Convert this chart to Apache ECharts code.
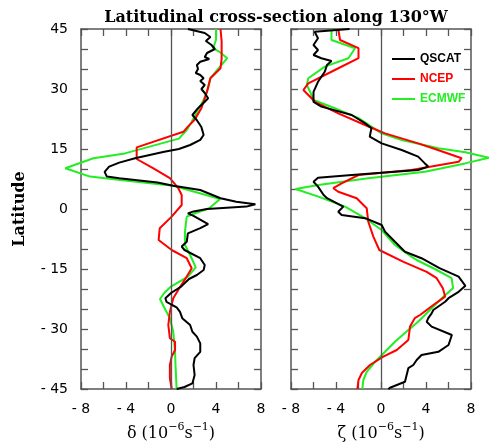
<!DOCTYPE html>
<html><head><meta charset="utf-8">
<script src="https://cdn.jsdelivr.net/npm/echarts@6/dist/echarts.min.js"></script>
<style>html,body{margin:0;padding:0;background:#fff}#c{width:489px;height:442px}</style>
</head><body><div id="c"></div>
<script>
// ---- data: [latitude, value] ----
const divQscat = [[45,1.5],[44,3.0],[43,3.5],[42,3.1],[41,3.6],[40,3.9],[39,3.2],[38,3.0],[37.5,3.4],[36.8,2.6],[36,2.3],[35,2.4],[34,2.2],[33.5,2.6],[32.7,2.9],[32,2.6],[31,3.0],[30,2.7],[29,3.0],[27.7,3.3],[26.8,3.0],[25.2,2.4],[23.5,1.9],[22.2,2.3],[20.5,2.7],[18.5,2.9],[17.3,2.6],[16,1.7],[15,0.7],[14.3,-0.6],[13.5,-1.9],[12.7,-3.2],[11.6,-4.6],[10.6,-5.5],[9.3,-5.9],[8.1,-5.7],[7.7,-4.6],[7.2,-3.0],[6.6,-1.2],[5.8,0.2],[4.75,2.6],[2.7,4.4],[1.8,5.8],[1.2,7.5],[0.6,6.7],[0,3.2],[-0.6,2.0],[-1.1,1.5],[-1.7,2.0],[-3.8,3.3],[-4.8,2.6],[-6.1,1.5],[-8.2,1.4],[-9.4,0.95],[-10.25,1.2],[-12.3,2.6],[-14,3.0],[-15.25,2.9],[-16.5,2.3],[-17.5,1.6],[-19.4,0.9],[-21,0.0],[-22.3,-0.5],[-23.2,-0.4],[-24,0.1],[-24.6,0.5],[-25.7,0.8],[-27.3,1.0],[-29,1.7],[-30.7,1.9],[-31.9,2.3],[-33.6,2.6],[-35.7,2.6],[-37.3,2.1],[-39,2.0],[-41.5,2.1],[-43.6,1.9],[-44.5,1.2],[-45,0.5]];
const divNcep = [[45,4.4],[42,4.5],[37.5,4.5],[35.2,4.4],[32.7,3.5],[29.3,3.2],[25.2,2.7],[22.3,2.1],[20.6,1.5],[19.3,1.1],[15.4,-3.05],[12.5,-3.05],[10.2,-1.6],[7.7,-0.1],[5.2,0.65],[3.5,0.95],[1,0.95],[-1.9,0.06],[-4.8,-1.0],[-7.75,-1.1],[-10.25,0.06],[-12.3,1.4],[-14.8,1.84],[-16.9,1.4],[-19.5,0.8],[-22.3,0.2],[-25.7,-0.1],[-29,-0.24],[-32.3,-0.1],[-33.2,0.36],[-35.25,0.36],[-36.9,0.06],[-39,-0.1],[-42.3,-0.1],[-45,0.06]];
const divEcmwf = [[45,4.0],[42.3,4.0],[40.2,3.75],[39.3,4.3],[37.7,5.0],[35.6,4.36],[32.7,3.5],[30.2,3.3],[27.25,2.9],[24.75,2.4],[21.8,1.84],[19.75,1.4],[17.6,0.7],[15.6,-1.9],[13.9,-4.1],[12.7,-6.9],[10.2,-9.4],[8.1,-7.2],[7.25,-4.5],[5.8,0.2],[2.5,4.36],[0.2,3.4],[-1.0,2.2],[-1.9,1.4],[-5.7,1.24],[-9,1.24],[-11.5,1.7],[-14.6,2.2],[-16.9,1.5],[-19.4,0.0],[-21,-0.6],[-22.5,-0.98],[-24.2,-0.68],[-27.3,-0.1],[-30.7,0.2],[-35.7,0.36],[-39,0.4],[-45,0.5]];
const vortQscat = [[45,-2.8],[44.3,-5.9],[42.7,-5.6],[41,-6.0],[39.75,-5.6],[38.5,-6.0],[37.7,-5.3],[37,-4.4],[36,-4.8],[34.3,-5.0],[31.8,-5.6],[29.3,-6.0],[26.8,-6.0],[25.6,-5.3],[23.5,-2.6],[21.4,-1.4],[20.2,-0.85],[18.1,-1.0],[16.4,0.06],[14.75,1.84],[13.1,3.3],[11.4,3.9],[10.6,4.2],[9.75,3.3],[8.5,-2.6],[7.8,-5.6],[6.8,-6.0],[5.6,-5.6],[3.5,-5.1],[2.7,-4.8],[0.6,-3.35],[0.2,-3.2],[-0.7,-3.8],[-1.5,-3.5],[-2.3,-1.4],[-4,0.06],[-5.7,0.36],[-8.2,1.24],[-10.7,2.13],[-12.3,3.6],[-14.8,5.2],[-16.9,6.9],[-19.2,7.5],[-20.7,6.9],[-22.3,6.0],[-23.2,5.7],[-25.25,4.65],[-26.1,4.5],[-27.3,4.2],[-28.2,4.06],[-29.4,4.5],[-31.5,6.3],[-34,6.0],[-35.7,5.1],[-36.5,3.6],[-37.75,3.17],[-39,2.87],[-39.8,2.43],[-41.5,2.28],[-43.2,2.13],[-44.7,0.8],[-45,0.65]];
const vortNcep = [[45,-3.8],[42.25,-3.64],[40.2,-2.0],[37.7,-2.0],[34.75,-4.1],[31.4,-6.46],[29.75,-6.9],[28.5,-6.46],[26.8,-5.87],[23.9,-3.8],[21,-1.42],[18.9,0.36],[16.4,3.3],[15,4.8],[12.7,7.17],[11.8,6.9],[9.75,2.7],[8.5,-2.0],[6.4,-3.5],[5.2,-4.24],[4.3,-3.8],[2.7,-2.16],[0.2,-1.27],[-3.2,-1.13],[-6.9,-0.68],[-10.25,-0.15],[-13.2,2.0],[-15.7,4.06],[-17.3,4.95],[-19.8,5.5],[-21.9,5.7],[-24,4.65],[-26.5,3.47],[-27.3,3.0],[-29.4,2.58],[-32.75,2.43],[-35.25,1.4],[-36.9,0.2],[-39,-0.98],[-41,-1.7],[-42.75,-2.0],[-45,-2.1]];
const vortEcmwf = [[45,-4.4],[42.25,-4.4],[40.2,-2.3],[37.7,-2.9],[35.6,-5.0],[32.7,-6.46],[31,-6.6],[29.3,-6.3],[27.25,-6.0],[25.2,-4.1],[22.7,-2.0],[18.9,0.06],[17.25,1.84],[15.2,5.1],[14.2,7.5],[12.8,9.6],[11.4,7.47],[9.3,3.9],[7.7,-1.13],[6,-5.57],[5.0,-7.6],[3.1,-5.57],[0.6,-3.2],[-2.3,-1.42],[-5.25,0.06],[-9,1.24],[-11.9,2.7],[-12.75,3.17],[-15.25,4.95],[-17.3,6.28],[-19.8,6.4],[-22.3,5.4],[-24.8,4.5],[-28.2,3.3],[-30.25,2.43],[-33.2,1.24],[-35.7,0.36],[-38.2,-0.53],[-40.7,-1.27],[-42.75,-1.57],[-45,-1.66]];
const seriesNames = ['QSCAT','NCEP','ECMWF'];
const xTickLabels = [-8,-4,0,4,8];
const yTickLabels = [45,30,15,0,-15,-30,-45];
const titleText = 'Latitudinal cross-section along 130°W';
const xNameSymbols = ['δ', 'ζ'];
const yName = 'Latitude';

// ---- styles ----
const colors = ['#000000','#ff0000','#22ee22'];
const frameColor = '#555';
const fmtNum = v => (v < 0 ? '- ' + Math.abs(v) : String(v));

const chart = echarts.init(document.getElementById('c'), null, {renderer:'canvas'});

const PW = 180, PL = [81, 291], PT = 29, PH = 360;
// visible frames (range -8..8) + hidden wider data grids (range -10..10) so curves can overshoot the frame
const gridBase = {outerBoundsMode:'none', containLabel:false};
const grids = [
  Object.assign({left:PL[0], top:PT, width:PW, height:PH}, gridBase),
  Object.assign({left:PL[1], top:PT, width:PW, height:PH}, gridBase),
  Object.assign({left:PL[0] - PW/16*2, top:PT, width:PW/16*20, height:PH}, gridBase),
  Object.assign({left:PL[1] - PW/16*2, top:PT, width:PW/16*20, height:PH}, gridBase)
];
const tickStyle = {show:true, inside:true, length:7, lineStyle:{color:frameColor, width:1.3}};
const lineStyleAx = {show:true, onZero:false, lineStyle:{color:frameColor, width:1.5}};
const nameRich = {
  b:{fontFamily:'DejaVu Serif', fontSize:16, color:'#000', lineHeight:20, verticalAlign:'bottom'},
  s:{fontFamily:'DejaVu Serif', fontSize:11, color:'#000', lineHeight:20, verticalAlign:'top'}
};

const xAxes = [], yAxes = [];
[0,1].forEach(g => {
  xAxes.push({type:'value', gridIndex:g, position:'bottom', min:-8, max:8, interval:2,
    axisLine:lineStyleAx, axisTick:tickStyle, splitLine:{show:false},
    axisLabel:{show:true, margin:13, color:'#000', fontFamily:'DejaVu Sans', fontSize:14,
      formatter: v => xTickLabels.includes(v) ? fmtNum(v) : ''},
    name: '{b|' + xNameSymbols[g] + ' (10}{s|−6}{b|s}{s|−1}{b|)}', nameLocation:'middle', nameGap:33,
    nameTextStyle:{rich:nameRich}
  });
  xAxes.push({type:'value', gridIndex:g, position:'top', min:-8, max:8, interval:2,
    axisLine:lineStyleAx, axisTick:tickStyle, splitLine:{show:false}, axisLabel:{show:false}});
  yAxes.push({type:'value', gridIndex:g, position:'left', min:-45, max:45, interval:5,
    axisLine:lineStyleAx, axisTick:tickStyle, splitLine:{show:false},
    axisLabel:{show: g===0, margin:13, color:'#000', fontFamily:'DejaVu Sans', fontSize:14,
      formatter: v => yTickLabels.includes(v) ? fmtNum(v) : ''},
    name: g===0 ? yName : '', nameLocation:'middle', nameGap:53, nameRotate:90,
    nameTextStyle:{fontFamily:'DejaVu Serif', fontSize:16, fontWeight:'bold', color:'#000'}
  });
  yAxes.push({type:'value', gridIndex:g, position:'right', min:-45, max:45, interval:5,
    axisLine:lineStyleAx, axisTick:tickStyle, splitLine:{show:false}, axisLabel:{show:false}});
});
// hidden data axes: x index 4,5 ; y index 4,5
[2,3].forEach(g => {
  xAxes.push({type:'value', gridIndex:g, show:false, min:-10, max:10});
  yAxes.push({type:'value', gridIndex:g, show:false, min:-45, max:45});
});

const panels = [[divQscat, divNcep, divEcmwf],[vortQscat, vortNcep, vortEcmwf]];
const series = [];
panels.forEach((sets, g) => {
  series.push({type:'line', xAxisIndex:g*2, yAxisIndex:g*2, data:[], z:1, silent:true,
    markLine:{silent:true, symbol:'none', label:{show:false}, animation:false,
      lineStyle:{color:frameColor, width:1.3, type:'solid'}, data:[{xAxis:0}]}});
  sets.forEach((d, i) => {
    series.push({type:'line', name:seriesNames[i], xAxisIndex:4+g, yAxisIndex:4+g,
      data: d.map(p => [p[1], p[0]]), symbol:'none', showSymbol:false, clip:false, z:3+(2-i),
      lineStyle:{color:colors[i], width:2}, itemStyle:{color:colors[i]}, animation:false});
  });
});

chart.setOption({
  animation:false,
  backgroundColor:'#fff',
  grid: grids,
  xAxis: xAxes,
  yAxis: yAxes,
  legend: {orient:'vertical', left:392, top:52, padding:0, itemWidth:23, itemHeight:2, itemGap:6, itemTextGap:5,
    selectedMode:false, icon:'rect',
    data: seriesNames.map((n,i) => ({name:n, icon:'rect', itemStyle:{color:colors[i]}, textStyle:{color:colors[i]}})),
    textStyle:{fontFamily:'Liberation Sans', fontWeight:'bold', fontSize:12, lineHeight:14, height:14}},
  graphic: [{type:'text', x:276, y:18, style:{text:titleText, fill:'#000', font:'bold 16px "DejaVu Serif"', textAlign:'center', textVerticalAlign:'middle'}}],
  series: series
});
</script></body></html>
